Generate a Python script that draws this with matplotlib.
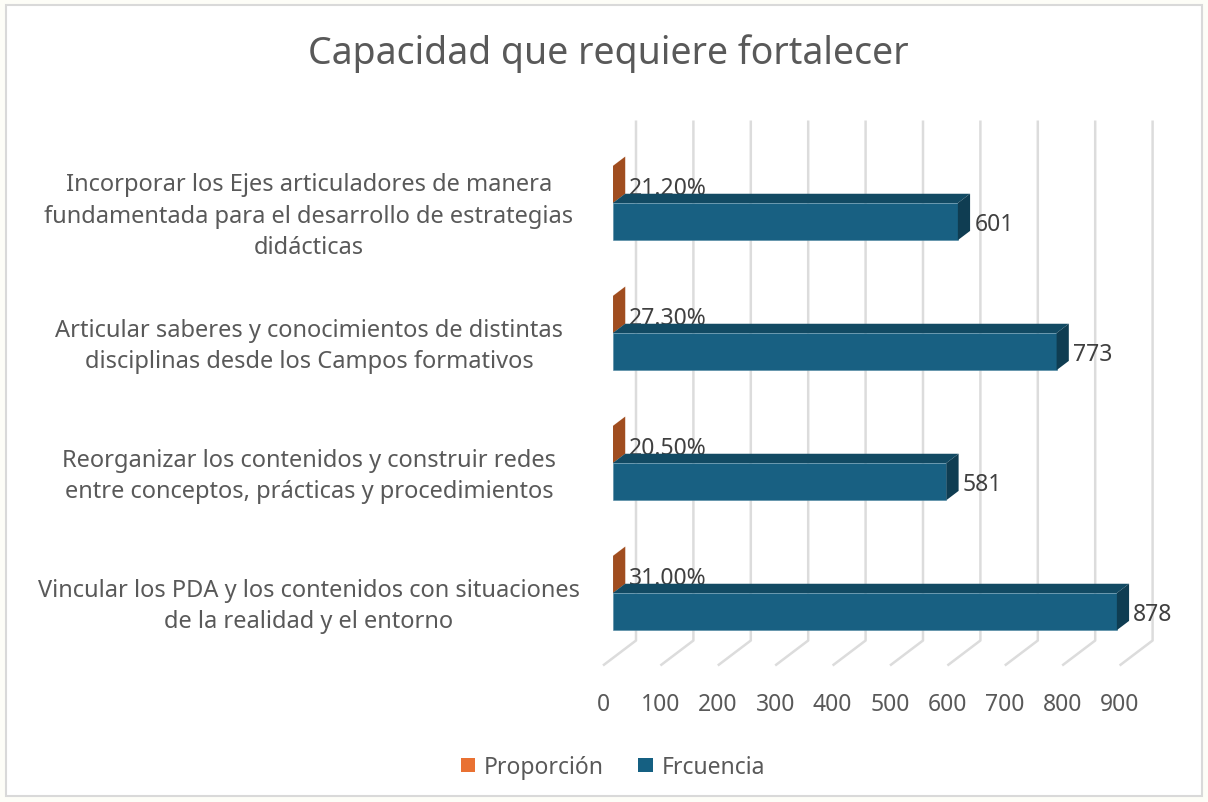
import numpy as np
import matplotlib.pyplot as plt
import matplotlib.transforms as mtransforms
from matplotlib.patches import Polygon, Rectangle, Patch

plt.rcParams['font.family'] = ['Noto Sans', 'DejaVu Sans']

title = 'Capacidad que requiere fortalecer'
categories = [
    'Incorporar los Ejes articuladores de manera\nfundamentada para el desarrollo de estrategias\ndidácticas',
    'Articular saberes y conocimientos de distintas\ndisciplinas desde los Campos formativos',
    'Reorganizar los contenidos y construir redes\nentre conceptos, prácticas y procedimientos',
    'Vincular los PDA y los contenidos con situaciones\nde la realidad y el entorno',
]
proporcion = [0.212, 0.273, 0.205, 0.310]
frecuencia = [601, 773, 581, 878]
series_names = ['Proporción', 'Frcuencia']
xticks = np.arange(0, 1000, 100)

W, H = 1208, 803
fs = 16.5
fig = plt.figure(figsize=(W / 100, H / 100), dpi=100)
fig.patch.set_facecolor('#fdfdf7')
fig.add_artist(Rectangle((6 / W, 6 / H), 1196 / W, 791 / H, transform=fig.transFigure,
                         facecolor='white', edgecolor='#d9d9d9', lw=1.5, zorder=-10))

# plot box (pixels) and scales
px_unit = 0.574          # pixels per value unit
x0_px = 603              # value 0 on front plane
cat_px = 130             # pixels per category
y0_px = 211.5            # first category centre on front plane
left, right, top, bottom = 560, 1190, 100, 690
ax = fig.add_axes([left / W, 1 - bottom / H, (right - left) / W, (bottom - top) / H])
ax.set_xlim((left - x0_px) / px_unit, (right - x0_px) / px_unit)
ax.set_ylim((bottom - y0_px) / cat_px, (top - y0_px) / cat_px)
ax.axis('off')

DX = 33 / px_unit        # full depth in value units
DY = -25 / cat_px        # full depth in category units
d0, d1 = 0.3, 0.67       # bar depth span
n = len(categories)
h = 1 / 3.5              # bar thickness (gap 150%)

grid_c = '#dcdcdc'
floor_y = n - 0.5
for t in xticks:
    ax.plot([t, t + DX, t + DX], [floor_y, floor_y + DY, -0.5 + DY],
            color=grid_c, lw=1.8, solid_capstyle='butt', zorder=1)
    ax.annotate(str(t), (t, floor_y), xytext=(0, -27.5), textcoords='offset points',
                ha='center', va='center', fontsize=fs, color='#595959')


def bar3d(v, ytop, front, topc, side, z):
    xa, xb = d0 * DX, v + d0 * DX
    ya, yb = ytop + d0 * DY, ytop + h + d0 * DY
    sx, sy = (d1 - d0) * DX, (d1 - d0) * DY
    ax.add_patch(Rectangle((xa, ya), v, h, facecolor=front, edgecolor='#4f86a0',
                           lw=0.4, zorder=z))
    ax.add_patch(Polygon([(xa, ya), (xb, ya), (xb + sx, ya + sy), (xa + sx, ya + sy)],
                         facecolor=topc, edgecolor='none', zorder=z))
    ax.add_patch(Polygon([(xb, ya), (xb, yb), (xb + sx, yb + sy), (xb + sx, ya + sy)],
                         facecolor=side, edgecolor='none', zorder=z))


lab_c = '#404040'
for i in range(n):
    p, f = proporcion[i], frecuencia[i]
    bar3d(p, i - h, '#e97132', '#c45c25', '#a04d1f', 3)
    ax.annotate(f'{p * 100:.2f}%', (p + d1 * DX, i - h / 2 + d0 * DY), xytext=(2.5, -2.5),
                textcoords='offset points', ha='left', va='center',
                fontsize=fs, color=lab_c, zorder=4)
    bar3d(f, i, '#186082', '#124a63', '#0f3d52', 5)
    ax.annotate(str(f), (f + d1 * DX, i + h / 2 + d0 * DY), xytext=(3, -1.5),
                textcoords='offset points', ha='left', va='center',
                fontsize=fs, color=lab_c, zorder=6)

trans = mtransforms.blended_transform_factory(fig.transFigure, ax.transData)
for i, c in enumerate(categories):
    ax.text(309 / W, i + 0.04, c, transform=trans, ha='center', va='center',
            multialignment='center', fontsize=17, color='#595959', linespacing=1.41)

fig.text(608 / W, 1 - 54 / H, title, ha='center', va='center', fontsize=27, color='#595959')

handles = [Patch(facecolor='#e97132'), Patch(facecolor='#156082')]
fig.legend(handles, series_names, loc='center', bbox_to_anchor=(613 / W, 1 - 768 / H),
           ncol=2, frameon=False, fontsize=fs, handlelength=0.62, handleheight=0.62,
           handletextpad=0.4, columnspacing=1.5, labelcolor='#595959')

fig.savefig('out.png', dpi=100)
